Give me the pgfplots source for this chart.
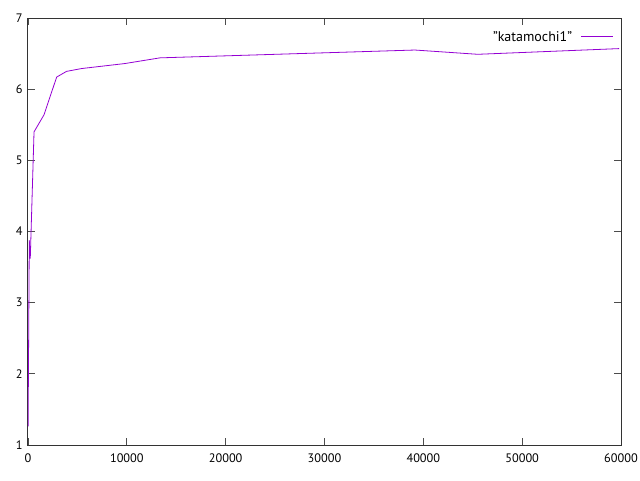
\documentclass[border=0pt]{standalone}
\usepackage{pgfplots}
\pgfplotsset{compat=1.18}
\usepackage{fontspec}
\setmainfont{PT Sans}
\definecolor{gpurple}{HTML}{9400D3}
\begin{document}
\begin{tikzpicture}[x=1pt,y=1pt]
\useasboundingbox (0,0) rectangle (640,480);
\begin{axis}[
  at={(28pt,35pt)}, anchor=south west,
  scale only axis, width=593pt, height=427pt,
  xmin=0, xmax=60000, ymin=1, ymax=7,
  xtick={0,10000,...,60000}, ytick={1,2,...,7},
  scaled x ticks=false,
  xticklabel style={/pgf/number format/1000 sep={}},
  /pgf/number format/assume math mode=true,
  tick align=inside, major tick length=7pt,
  axis line style={black!80, line width=1pt},
  every tick/.style={black!70, line width=0.8pt},
  tick label style={font=\fontsize{12.3}{14}\selectfont, black},
  xticklabel shift=5pt, yticklabel shift=2pt,
  legend style={draw=white, fill=none, at={(0.988,0.974)}, anchor=north east,
    font=\fontsize{14}{16}\selectfont, inner sep=0pt, outer sep=0pt},
  legend cell align=right, legend plot pos=right,
  legend image code/.code={\path (0pt,0pt); \draw[draw=gpurple, line width=0.8pt] (7pt,0pt) -- (39pt,0pt);},
]
\addplot[gpurple, line width=0.8pt] coordinates {
 (10,1.26) (130,3.88) (230,3.62) (610,5.40) (1620,5.64) (2900,6.17) (3900,6.25) (5430,6.29) (9800,6.36) (13350,6.44) (39150,6.55) (45500,6.49) (59800,6.57)
};
\addlegendentry{\char34 katamochi1\char34}
\end{axis}
\end{tikzpicture}
\end{document}
